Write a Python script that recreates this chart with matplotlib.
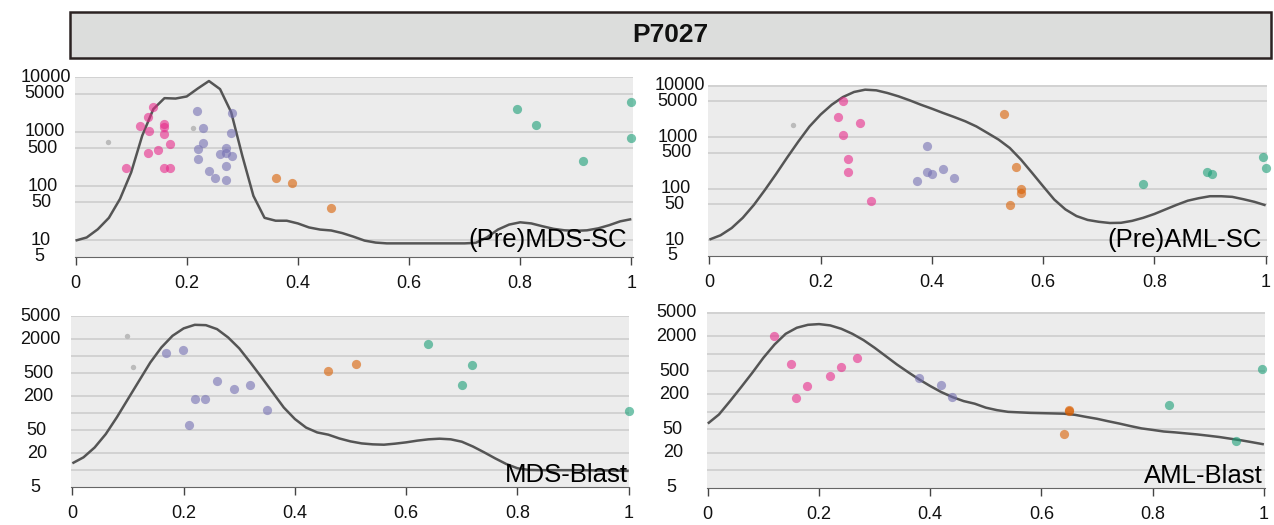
import matplotlib
matplotlib.use("Agg")
import matplotlib.pyplot as plt
from matplotlib.patches import Rectangle

plt.rcParams['font.family'] = ['Liberation Sans', 'DejaVu Sans']

title = "P7027"

# colour groups of the dots
group_colors = {
    'grey': '#bbbbbb',
    'pink': '#e7298a',
    'purple': '#7570b3',
    'orange': '#d95f02',
    'green': '#1b9e77',
}

# x grid of the density curves (shared by all panels)
curve_x = [0.00, 0.02, 0.04, 0.06, 0.08, 0.10, 0.12, 0.14, 0.16, 0.18,
           0.20, 0.22, 0.24, 0.26, 0.28, 0.30, 0.32, 0.34, 0.36, 0.38,
           0.40, 0.42, 0.44, 0.46, 0.48, 0.50, 0.52, 0.54, 0.56, 0.58,
           0.60, 0.62, 0.64, 0.66, 0.68, 0.70, 0.72, 0.74, 0.76, 0.78,
           0.80, 0.82, 0.84, 0.86, 0.88, 0.90, 0.92, 0.94, 0.96, 0.98, 1.00]

# (Pre)MDS-SC
mds_sc_x = [0.058, 0.211,
            0.091, 0.116, 0.130, 0.140, 0.133, 0.130, 0.148, 0.159, 0.160, 0.160, 0.170, 0.160, 0.170,
            0.219, 0.230, 0.281, 0.279, 0.230, 0.220, 0.220, 0.270, 0.270, 0.260, 0.281, 0.270, 0.240, 0.250, 0.270,
            0.360, 0.390, 0.459,
            0.794, 0.828, 0.913, 1.000, 1.000]
mds_sc_y = [635, 1165,
            216, 1268, 1833, 2878, 1040, 404, 464, 1397, 1199, 903, 598, 216, 216,
            2366, 1181, 2174, 930, 617, 472, 317, 492, 404, 382, 351, 233, 186, 142, 132,
            138, 113, 40,
            2644, 1306, 291, 3510, 762]
mds_sc_grp = (['grey'] * 2 + ['pink'] * 13 + ['purple'] * 15 + ['orange'] * 3 + ['green'] * 5)
mds_sc_curve = [9.9, 11.3, 16, 26, 58, 178, 850, 2620, 4160, 4090,
                4470, 6270, 8600, 6100, 2290, 362, 66, 26, 23, 23,
                20.5, 17.3, 15.8, 15.2, 13.6, 11.7, 9.9, 9.1, 8.8, 8.8,
                8.8, 8.8, 8.8, 8.8, 8.8, 8.8, 9.0, 11.3, 15.8, 19.5,
                21.5, 20.5, 18.2, 16.3, 15.3, 15.0, 15.3, 16.6, 19, 22.4, 24.6]

# (Pre)AML-SC
aml_sc_x = [0.150,
            0.241, 0.231, 0.270, 0.240, 0.250, 0.250, 0.291,
            0.391, 0.391, 0.401, 0.420, 0.374, 0.440,
            0.530, 0.551, 0.561, 0.561, 0.541,
            0.780, 0.894, 0.903, 0.995, 1.000]
aml_sc_y = [1730,
            5120, 2510, 1862, 1107, 380, 209, 59,
            667, 215, 197, 243, 144, 163,
            2826, 269, 101, 82, 49,
            126, 209, 194, 421, 254]
aml_sc_grp = (['grey'] + ['pink'] * 7 + ['purple'] * 6 + ['orange'] * 5 + ['green'] * 5)
aml_sc_curve = [10.4, 12.6, 17.4, 27.5, 49, 96, 195, 408, 830, 1620,
                2760, 4280, 6020, 7540, 8360, 8120, 7210, 6210, 5200, 4280,
                3580, 2960, 2470, 2040, 1620, 1210, 900, 620, 370, 205,
                112, 62, 40, 29.7, 25, 23, 21.8, 22, 24, 27.5,
                32.6, 40, 49, 59, 66, 72, 72, 70, 63, 56, 48]

# MDS-Blast
mds_blast_x = [0.099, 0.109,
               0.169, 0.199, 0.260, 0.290, 0.319, 0.220, 0.239, 0.350, 0.209,
               0.459, 0.509,
               0.639, 0.719, 0.700, 1.000]
mds_blast_y = [2290, 646,
               1120, 1300, 367, 262, 308, 175, 175, 112, 62,
               550, 720,
               1656, 700, 316, 111]
mds_blast_grp = (['grey'] * 2 + ['purple'] * 9 + ['orange'] * 2 + ['green'] * 4)
mds_blast_curve = [13.2, 16.8, 25, 43, 85, 178, 372, 776, 1430, 2290,
                   3090, 3570, 3520, 3000, 2140, 1375, 776, 427, 232, 126,
                   79, 56, 46, 42, 36, 32, 29.5, 28.4, 28, 29.2,
                   30.8, 33, 34.8, 35.7, 34.8, 31.6, 26, 20.6, 16.1, 12.8,
                   10.8, 10.1, 10, 10, 10, 10, 10, 9.9, 9.9, 9.8, 9.7]

# AML-Blast
aml_blast_x = [0.119, 0.149, 0.159, 0.179, 0.219, 0.239, 0.269,
               0.380, 0.419, 0.439,
               0.649, 0.650, 0.640,
               0.829, 0.949, 0.997]
aml_blast_y = [1963, 668, 175, 273, 405, 586, 836,
               385, 288, 177,
               106, 103, 41.6,
               132, 31.5, 548]
aml_blast_grp = (['pink'] * 7 + ['purple'] * 3 + ['orange'] * 3 + ['green'] * 3)
aml_blast_curve = [63, 90, 153, 266, 468, 847, 1430, 2180, 2770, 3110,
                   3200, 3040, 2660, 2180, 1700, 1256, 904, 650, 481, 360,
                   277, 218, 179, 153, 138, 118, 107, 100, 98, 96,
                   95, 94, 93, 89, 82, 76, 69, 63, 57, 52,
                   49, 46, 44.5, 42.7, 41, 39, 37, 34.6, 32.4, 30, 27.7]

x_ticks = [0, 0.2, 0.4, 0.6, 0.8, 1]
x_tick_labels = ['0', '0.2', '0.4', '0.6', '0.8', '1']
top_grid = [10, 50, 100, 500, 1000, 5000, 10000]
top_labels = [5, 10, 50, 100, 500, 1000, 5000, 10000]
bottom_grid = [10, 20, 50, 100, 200, 500, 1000, 2000, 5000]
bottom_labels = [5, 20, 50, 200, 500, 2000, 5000]

W, H = 1274, 525
fig = plt.figure(figsize=(W / 100, H / 100), dpi=100)


def px_axes(left, top, right, bottom):
    return fig.add_axes([left / W, 1 - bottom / H, (right - left) / W, (bottom - top) / H])


def panel(ax, xs, ys, grps, curve, label, grid, labels, xlim, ylim, label_off):
    ax.set_facecolor('#ececec')
    ax.set_yscale('log')
    ax.set_xlim(*xlim)
    ax.set_ylim(*ylim)
    for g in grid:
        ax.axhline(g, color='#cdcdcd', lw=1.2, zorder=1)
    ax.plot(curve_x, curve, color='#555555', lw=1.8, zorder=2,
            solid_joinstyle='round', solid_capstyle='butt')
    for name in ['grey', 'pink', 'purple', 'orange', 'green']:
        px = [x for x, gr in zip(xs, grps) if gr == name]
        py = [y for y, gr in zip(ys, grps) if gr == name]
        if not px:
            continue
        if name == 'grey':
            ax.scatter(px, py, s=15, color=group_colors[name], lw=0, zorder=3, clip_on=False)
        else:
            ax.scatter(px, py, s=44, color=group_colors[name], alpha=0.6, lw=0, zorder=3,
                       clip_on=False)
    ax.set_yticks([])
    ax.minorticks_off()
    for v in labels:
        n = len(str(v))
        ax.annotate(str(v), xy=(0, v), xycoords=('axes fraction', 'data'),
                    xytext=((-37.5 + 1.75 * n) * 0.72, 0), textcoords='offset points',
                    ha='center', va='center', fontsize=13, color='#111111')
    ax.set_xticks(x_ticks)
    ax.set_xticklabels(x_tick_labels)
    ax.tick_params(axis='x', length=6, width=1, color='#444444', pad=7,
                   labelsize=13, labelcolor='#111111')
    for s in ['top', 'right', 'left']:
        ax.spines[s].set_visible(False)
    ax.spines['bottom'].set_color('#666666')
    ax.spines['bottom'].set_linewidth(0.8)
    ax.annotate(label, xy=(1, 0), xycoords='axes fraction',
                xytext=(label_off[0] * 0.72, label_off[1] * 0.72), textcoords='offset points',
                ha='right', va='baseline', fontsize=18.5, color='#000000', zorder=5)


ax1 = px_axes(75, 76.7, 633, 256.7)
panel(ax1, mds_sc_x, mds_sc_y, mds_sc_grp, mds_sc_curve, '(Pre)MDS-SC',
      top_grid, top_labels, (-0.001, 1.003), (5, 10330), (-5.5, 10))

ax2 = px_axes(708.3, 85, 1267.3, 256)
panel(ax2, aml_sc_x, aml_sc_y, aml_sc_grp, aml_sc_curve, '(Pre)AML-SC',
      top_grid, top_labels, (-0.002, 1.003), (5, 10300), (-5.5, 9.5))

ax3 = px_axes(70.7, 316, 629.3, 487.3)
panel(ax3, mds_blast_x, mds_blast_y, mds_blast_grp, mds_blast_curve, 'MDS-Blast',
      bottom_grid, bottom_labels, (-0.003, 1.001), (5, 5100), (-1, 5.5))

ax4 = px_axes(706.7, 312.3, 1265, 487.7)
panel(ax4, aml_blast_x, aml_blast_y, aml_blast_grp, aml_blast_curve, 'AML-Blast',
      bottom_grid, bottom_labels, (-0.002, 1.002), (5, 5100), (-2, 5))

# header strip
fig.patches.append(Rectangle((70 / W, 1 - 57.7 / H), 1200.7 / W, 45.4 / H,
                             transform=fig.transFigure, facecolor='#dcdddc',
                             edgecolor='#2b2222', lw=1.8, zorder=0))
fig.text(670 / W, 1 - 41.7 / H, title, ha='center', va='baseline',
         fontsize=19, fontweight='bold', color='#111111')

fig.savefig('out.png', dpi=100)
